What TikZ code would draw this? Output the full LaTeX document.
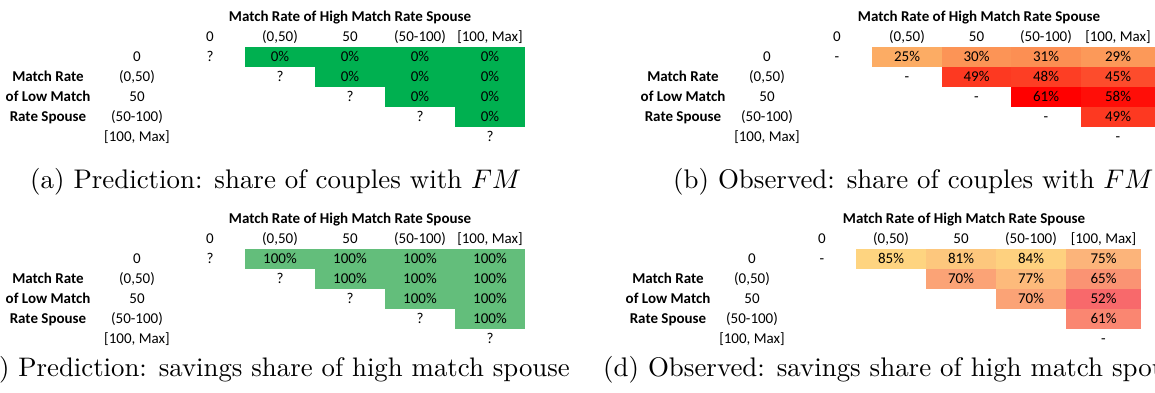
\documentclass[tikz,border=0pt]{standalone}
\usepackage{fontspec}
\newfontfamily\calib{Carlito}
\definecolor{gA}{RGB}{0,176,80}
\definecolor{gC}{RGB}{99,190,123}
\definecolor{b25}{RGB}{252,172,100}
\definecolor{b29}{RGB}{252,153,89}
\definecolor{b30}{RGB}{252,148,86}
\definecolor{b31}{RGB}{252,143,83}
\definecolor{b45}{RGB}{253,76,44}
\definecolor{b48}{RGB}{253,62,36}
\definecolor{b49}{RGB}{253,57,33}
\definecolor{b58}{RGB}{255,14,8}
\definecolor{b61}{RGB}{255,0,0}
\definecolor{d85}{RGB}{254,212,128}
\definecolor{d84}{RGB}{254,209,127}
\definecolor{d81}{RGB}{253,199,125}
\definecolor{d77}{RGB}{253,186,123}
\definecolor{d75}{RGB}{252,180,122}
\definecolor{d70}{RGB}{251,163,118}
\definecolor{d65}{RGB}{250,147,115}
\definecolor{d61}{RGB}{250,134,113}
\definecolor{d52}{RGB}{248,105,107}
\tikzset{
  hdr/.style={font=\calib\fontsize{15}{17}\selectfont, inner sep=0pt, text height=10.5pt, text depth=1.5pt, anchor=center},
  bld/.style={font=\calib\bfseries\fontsize{15}{17}\selectfont, inner sep=0pt, text height=10.5pt, text depth=1.5pt, anchor=center},
  cell/.style={hdr, minimum height=20pt},
  captxt/.style={inner sep=0pt}
}
% #1 prefix #2 yoff #3-#7 column centres #8 row-label x #9 bold-label x
\newcommand\tableframe[9]{%
  \node[bld] (#1-title) at (\titlex,17+#2) {Match Rate of High Match Rate Spouse};
  \node[hdr] (#1-h0) at (#3,37+#2) {0};
  \node[hdr] (#1-h1) at (#4,37+#2) {(0,50)};
  \node[hdr] (#1-h2) at (#5,37+#2) {50};
  \node[hdr] (#1-h3) at (#6,37+#2) {(50-100)};
  \node[hdr] (#1-h4) at (#7,37+#2) {[100, Max]};
  \node[hdr] (#1-r0) at (#8,57+#2) {0};
  \node[hdr] (#1-r1) at (#8,77+#2) {(0,50)};
  \node[hdr] (#1-r2) at (#8,97+#2) {50};
  \node[hdr] (#1-r3) at (#8,117+#2) {(50-100)};
  \node[hdr] (#1-r4) at (#8,137+#2) {[100, Max]};
  \node[bld] (#1-l1) at (#9,77+#2) {Match Rate};
  \node[bld] (#1-l2) at (#9,97+#2) {of Low Match};
  \node[bld] (#1-l3) at (#9,117+#2) {Rate Spouse};
  \node[hdr] (#1-d0) at (#3,57+#2) {\diagsym};
  \node[hdr] (#1-d4) at (#7,137+#2) {\diagsym};
}
\begin{document}
\begin{tikzpicture}[x=1pt,y=-1pt]
\useasboundingbox (0,0) rectangle (1155,392);
\clip (0,0) rectangle (1155,392);

% ---------- (a)
\foreach \x/\y [count=\n] in {280/57,350/57,420/57,490/57,350/77,420/77,490/77,420/97,490/97,490/117}
  \node[cell, minimum width=70pt, fill=gA] (a-c\n) at (\x,\y) {0\%};
\def\diagsym{?}\def\titlex{350}
\tableframe{a}{0}{210}{280}{350}{420}{490}{137}{48}
\foreach \x/\y [count=\n] in {280/77,350/97,420/117}
  \node[hdr] (a-m\n) at (\x,\y) {?};
\node[captxt, anchor=base west] (capa) at (30,188) {\scalebox{2.69}{(a) Prediction: share of couples with $FM$}};

% ---------- (b)
\foreach \x/\y/\w/\v [count=\n] in {907/57/70/25,976.5/57/69/30,1046/57/70/31,1118/57/74/29,
  976.5/77/69/49,1046/77/70/48,1118/77/74/45,
  1046/97/70/61,1118/97/74/58,
  1118/117/74/49}
  \node[cell, minimum width=\w pt, fill=b\v] (b-c\n) at (\x,\y) {\v\%};
\def\diagsym{-}\def\titlex{979}
\tableframe{b}{0}{837}{907}{976.5}{1046}{1118}{767}{683}
\foreach \x/\y [count=\n] in {907/77,976.5/97,1046/117}
  \node[hdr] (b-m\n) at (\x,\y) {-};
\node[captxt, anchor=base west] (capb) at (673,188) {\scalebox{2.69}{(b) Observed: share of couples with $FM$}};

% ---------- (c)
\foreach \x/\y [count=\n] in {280/259,350/259,420/259,490/259,350/279,420/279,490/279,420/299,490/299,490/319}
  \node[cell, minimum width=70pt, fill=gC] (c-c\n) at (\x,\y) {100\%};
\def\diagsym{?}\def\titlex{350}
\tableframe{c}{202}{210}{280}{350}{420}{490}{137}{48}
\foreach \x/\y [count=\n] in {280/279,350/299,420/319}
  \node[hdr] (c-m\n) at (\x,\y) {?};
\node[captxt, anchor=base east] (capc) at (570,376) {\scalebox{2.68}{(c) Prediction: savings share of high match spouse}};

% ---------- (d)
\foreach \x/\y/\w/\v [count=\n] in {891/259/70/85,961/259/70/81,1031/259/70/84,1103.5/259/75/75,
  961/279/70/70,1031/279/70/77,1103.5/279/75/65,
  1031/299/70/70,1103.5/299/75/52,
  1103.5/319/75/61}
  \node[cell, minimum width=\w pt, fill=d\v] (d-c\n) at (\x,\y) {\v\%};
\def\diagsym{-}\def\titlex{964}
\tableframe{d}{202}{822}{891}{961}{1031}{1103.5}{752}{668}
\node[captxt, anchor=base west] (capd) at (603,376) {\scalebox{2.69}{(d) Observed: savings share of high match spouse}};
\end{tikzpicture}
\end{document}
